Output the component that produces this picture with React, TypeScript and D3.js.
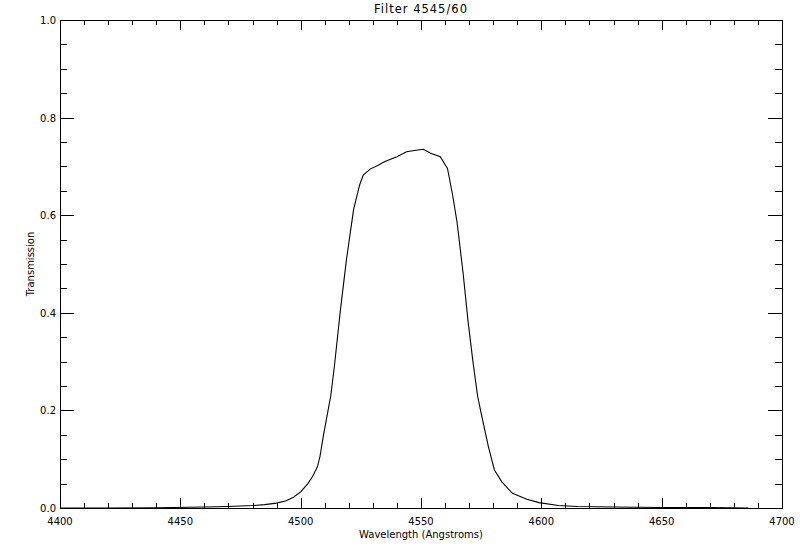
import { useEffect, useRef } from "react"
import * as d3 from "d3"

// filter curve
const wavelengths = [
  4400, 4420, 4440, 4460, 4470, 4480, 4485, 4490, 4494, 4497, 4500, 4503, 4505, 4507, 4508,
  4509.5, 4511, 4512.5, 4514, 4516.5, 4519, 4522, 4524.5, 4526, 4529, 4532, 4535, 4540, 4544,
  4548, 4551, 4554, 4558, 4561, 4563, 4565, 4567.5, 4569.5, 4571.5, 4573.5, 4575, 4578, 4580.5,
  4583.5, 4588, 4594, 4599, 4607, 4615, 4630, 4650, 4670, 4686
]
const transmission = [
  0, 0, 0.0005, 0.002, 0.003, 0.005, 0.007, 0.01, 0.015, 0.022, 0.033, 0.05, 0.065, 0.085, 0.105,
  0.15, 0.19, 0.23, 0.29, 0.405, 0.508, 0.612, 0.662, 0.682, 0.695, 0.702, 0.71, 0.72, 0.73,
  0.733, 0.735, 0.727, 0.72, 0.696, 0.645, 0.585, 0.481, 0.385, 0.303, 0.23, 0.194, 0.126, 0.078,
  0.054, 0.03, 0.018, 0.011, 0.005, 0.003, 0.002, 0.001, 0.001, 0
]
const xTicks = [4400, 4450, 4500, 4550, 4600, 4650, 4700]
const yTicks = [0, 0.2, 0.4, 0.6, 0.8, 1.0]

const title = "Filter 4545/60"
const xLabel = "Wavelength (Angstroms)"
const yLabel = "Transmission"

const App = () => {
  const svgRef = useRef<SVGSVGElement | null>(null)

  useEffect(() => {
    const width = 800
    const height = 550
    const left = 60, right = 782, top = 20, bottom = 508
    const font = "DejaVu Sans, sans-serif"

    const x = d3.scaleLinear().domain([4400, 4700]).range([left, right])
    const y = d3.scaleLinear().domain([0, 1]).range([bottom, top])

    const svg = d3.select(svgRef.current)
      .attr("width", width)
      .attr("height", height)
    svg.selectAll("*").remove()

    svg.append("rect")
      .attr("width", width).attr("height", height).attr("fill", "#fff")

    // frame
    svg.append("rect")
      .attr("x", left + 0.5).attr("y", top + 0.5)
      .attr("width", right - left).attr("height", bottom - top)
      .attr("fill", "none").attr("stroke", "#000").attr("stroke-width", 1)

    const g = svg.append("g").attr("stroke", "#000").attr("stroke-width", 1)

    // x ticks, bottom and top, minor every 10
    d3.range(4400, 4701, 10).forEach(v => {
      const major = v % 50 === 0
      const len = major ? 10 : 5
      const px = Math.round(x(v)) + 0.5
      g.append("line").attr("x1", px).attr("x2", px).attr("y1", bottom).attr("y2", bottom - len)
      g.append("line").attr("x1", px).attr("x2", px).attr("y1", top).attr("y2", top + len)
    })

    // y ticks, left and right, minor every 0.05
    d3.range(0, 21).forEach(i => {
      const v = i * 0.05
      const major = i % 4 === 0
      const len = major ? 14 : 7
      const py = Math.round(y(v)) + 0.5
      g.append("line").attr("x1", left).attr("x2", left + len).attr("y1", py).attr("y2", py)
      g.append("line").attr("x1", right).attr("x2", right - len).attr("y1", py).attr("y2", py)
    })

    const text = svg.append("g")
      .attr("font-family", font).attr("font-size", 10).attr("fill", "#000")

    text.selectAll(".xt")
      .data(xTicks)
      .enter()
      .append("text")
      .attr("x", d => x(d))
      .attr("y", 525)
      .attr("text-anchor", "middle")
      .text(d => d.toString())

    text.selectAll(".yt")
      .data(yTicks)
      .enter()
      .append("text")
      .attr("x", 56)
      .attr("y", d => y(d) + 4)
      .attr("text-anchor", "end")
      .text(d => d.toFixed(1))

    text.append("text")
      .attr("x", (left + right) / 2).attr("y", 13)
      .attr("font-size", 11.5)
      .attr("letter-spacing", 1)
      .attr("text-anchor", "middle").text(title)

    text.append("text")
      .attr("x", (left + right) / 2).attr("y", 538)
      .attr("text-anchor", "middle").text(xLabel)

    text.append("text")
      .attr("transform", `translate(34,${(top + bottom) / 2}) rotate(-90)`)
      .attr("text-anchor", "middle").text(yLabel)

    const pts = wavelengths.map((w, i) => [w, transmission[i]] as [number, number])
    const line = d3.line<[number, number]>()
      .x(d => x(d[0]))
      .y(d => y(d[1]))

    svg.append("path")
      .datum(pts)
      .attr("d", line)
      .attr("fill", "none")
      .attr("stroke", "#000")
      .attr("stroke-width", 1.1)
  }, [])

  return (
    <div style={{ position: "absolute", left: 0, top: 0 }}>
      <svg ref={svgRef}></svg>
    </div>
  )
}

export default App
